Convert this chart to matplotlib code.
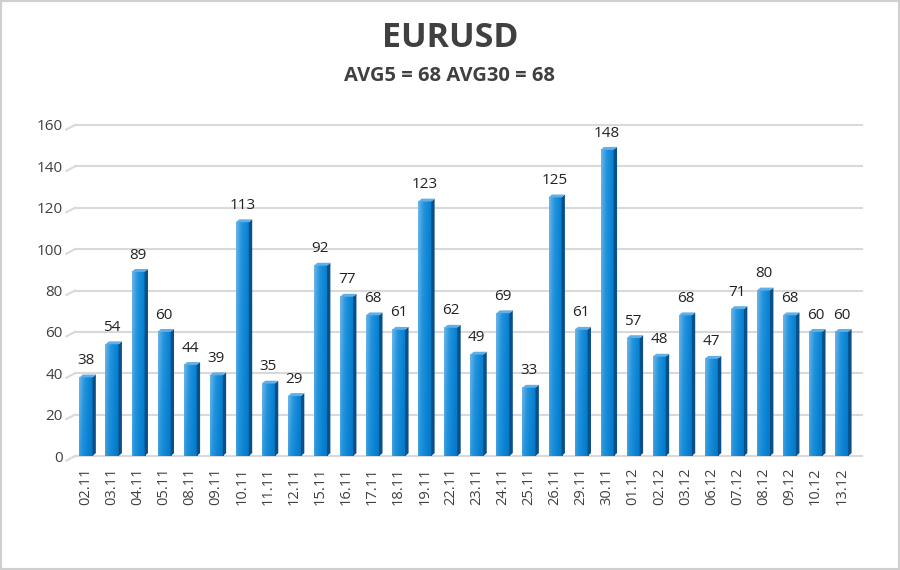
import matplotlib.pyplot as plt
import numpy as np
from matplotlib.patches import Polygon, Rectangle
from matplotlib.colors import LinearSegmentedColormap

dates = ['02.11', '03.11', '04.11', '05.11', '08.11', '09.11', '10.11', '11.11', '12.11',
         '15.11', '16.11', '17.11', '18.11', '19.11', '22.11', '23.11', '24.11', '25.11',
         '26.11', '29.11', '30.11', '01.12', '02.12', '03.12', '06.12', '07.12', '08.12',
         '09.12', '10.12', '13.12']
values = [38, 54, 89, 60, 44, 39, 113, 35, 29, 92, 77, 68, 61, 123, 62, 49, 69, 33,
          125, 61, 148, 57, 48, 68, 47, 71, 80, 68, 60, 60]
title = 'EURUSD'
subtitle = 'AVG5 = 68 AVG30 = 68'
yticks = [0, 20, 40, 60, 80, 100, 120, 140, 160]

plt.rcParams['font.family'] = ['Open Sans', 'DejaVu Sans']

fig = plt.figure(figsize=(9, 5.7), dpi=100)
ax = fig.add_axes([75 / 900, 114 / 570, 787 / 900, 331 / 570])

n = len(values)
x = np.arange(n)
w = 0.5
dx = 0.13
dy = 1.4

# front face gradient, lighter on the left and towards the top
front = LinearSegmentedColormap.from_list('front', ['#6bb6ea', '#2393dc', '#0a84d4', '#0874c0'])
grad = np.tile(np.linspace(0, 1, 32), (32, 1))
grad = grad * 0.8 + np.linspace(0.2, 0, 32)[:, None]

bars = ax.bar(x, values, width=w, color='none', zorder=3)
for b, v in zip(bars, values):
    x0 = b.get_x()
    x1 = x0 + w
    ax.imshow(grad, extent=[x0, x1, 0, v], aspect='auto', cmap=front,
              origin='lower', zorder=3, interpolation='bilinear', vmin=0, vmax=1)
    ax.add_patch(Polygon([(x1, 0), (x1 + dx, dy), (x1 + dx, v + dy), (x1, v)],
                         closed=True, facecolor='#0b4f88', edgecolor='none', zorder=3))
    ax.add_patch(Polygon([(x0, v), (x1, v), (x1 + dx, v + dy), (x0 + dx, v + dy)],
                         closed=True, facecolor='#5fb0e8', edgecolor='none', zorder=3))
    ax.text(x0 + w / 2, v + 4.5, str(v), ha='center', va='bottom', fontsize=11,
            color='#222222', zorder=4)

# gridlines with the slanted 3d ends
ytr = ax.get_yaxis_transform()
for t in yticks:
    ax.plot([0, 1], [t, t], color='#d9d9d9', lw=1.5, transform=ytr, zorder=1, clip_on=False)
    ax.plot([-0.011, 0], [t - 2.2, t], color='#d9d9d9', lw=1.5, transform=ytr, zorder=1,
            clip_on=False)

ax.set_xlim(-0.42, n - 1 + 0.78)
ax.set_ylim(0, 160)
ax.set_xticks(x)
ax.set_xticklabels(dates, rotation=90, fontsize=10.5, color='#404040')
ax.set_yticks(yticks)
ax.set_yticklabels([str(t) for t in yticks], fontsize=11, color='#404040')
ax.tick_params(length=0)
ax.tick_params(axis='x', pad=8)
ax.tick_params(axis='y', pad=9)
for s in ax.spines.values():
    s.set_visible(False)

fig.text(0.5, 1 - 38 / 570, title, ha='center', va='center', fontsize=24.5,
         fontweight='bold', color='#404040')
fig.text(0.5, 1 - 76 / 570, subtitle, ha='center', va='center', fontsize=14.5,
         fontweight='bold', color='#404040')

fig.patches.append(Rectangle((0, 0), 1, 1, transform=fig.transFigure, fill=False,
                             edgecolor='#cfcfcf', lw=3))

fig.savefig('out.png', dpi=100)
